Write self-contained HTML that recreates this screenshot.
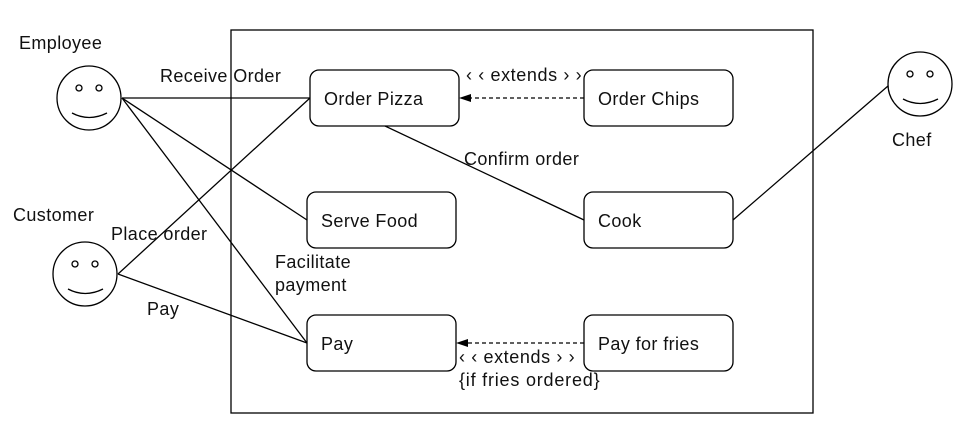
<!DOCTYPE html>
<html><head><style>
body{margin:0;background:#fff}
svg text{font-family:"Liberation Sans",sans-serif;font-size:18px;letter-spacing:0.4px;fill:#111}
</style></head><body>
<svg width="973" height="435" viewBox="0 0 973 435" xmlns="http://www.w3.org/2000/svg">
<g fill="none" stroke="#000" stroke-width="1.3">
<rect x="231" y="30" width="582" height="383"/>
<rect x="310" y="70" width="149" height="56" rx="9"/>
<rect x="307" y="192" width="149" height="56" rx="9"/>
<rect x="307" y="315" width="149" height="56" rx="9"/>
<rect x="584" y="70" width="149" height="56" rx="9"/>
<rect x="584" y="192" width="149" height="56" rx="9"/>
<rect x="584" y="315" width="149" height="56" rx="9"/>
<circle cx="89" cy="98" r="32"/><circle cx="79" cy="88" r="3"/><circle cx="99" cy="88" r="3"/><path d="M72 113 Q89 122 107 113"/>
<circle cx="85" cy="274" r="32"/><circle cx="75" cy="264" r="3"/><circle cx="95" cy="264" r="3"/><path d="M68 289 Q85 298 103 289"/>
<circle cx="920" cy="84" r="32"/><circle cx="910" cy="74" r="3"/><circle cx="930" cy="74" r="3"/><path d="M903 99 Q920 108 938 99"/>
<line x1="122" y1="98" x2="310" y2="98"/>
<line x1="122" y1="98" x2="307" y2="220"/>
<line x1="122" y1="98" x2="307" y2="343"/>
<line x1="118" y1="274" x2="310" y2="98"/>
<line x1="118" y1="274" x2="307" y2="343"/>
<line x1="385" y1="126" x2="584" y2="220"/>
<line x1="733" y1="220" x2="888" y2="86"/>
<line x1="584" y1="98" x2="470" y2="98" stroke-dasharray="4 3"/>
<line x1="584" y1="343" x2="466" y2="343" stroke-dasharray="4 3"/>
</g>
<path d="M459 98 L471 94 L471 102 Z" fill="#000"/>
<path d="M456 343 L468 339 L468 347 Z" fill="#000"/>
<text x="19" y="49">Employee</text>
<text x="13" y="221">Customer</text>
<text x="892" y="146">Chef</text>
<text x="160" y="82">Receive Order</text>
<text x="111" y="240">Place order</text>
<text x="147" y="315">Pay</text>
<text x="275" y="268">Facilitate</text>
<text x="275" y="291">payment</text>
<text x="464" y="165">Confirm order</text>
<text x="466" y="81" textLength="116">‹ ‹ extends › ›</text>
<text x="459" y="363" textLength="116">‹ ‹ extends › ›</text>
<text x="459" y="386" textLength="141">{if fries ordered}</text>
<text x="324" y="105">Order Pizza</text>
<text x="321" y="227">Serve Food</text>
<text x="321" y="350">Pay</text>
<text x="598" y="105">Order Chips</text>
<text x="598" y="227">Cook</text>
<text x="598" y="350">Pay for fries</text>
</svg>
</body></html>
